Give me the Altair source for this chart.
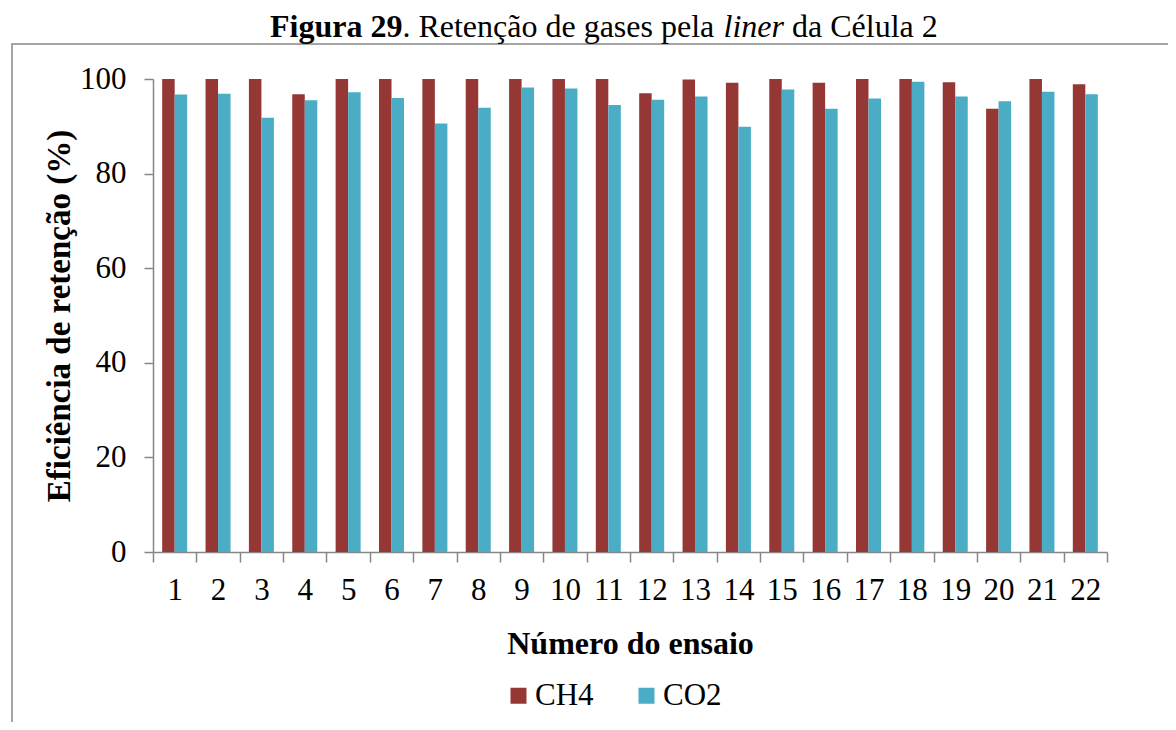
import altair as alt
import pandas as pd

ensaios = ["1", "2", "3", "4", "5", "6", "7", "8", "9", "10", "11",
           "12", "13", "14", "15", "16", "17", "18", "19", "20", "21", "22"]
ch4 = [100, 100, 100, 96.8, 100, 100, 100, 100, 100, 100, 100,
       97.0, 99.9, 99.2, 100, 99.2, 100, 100, 99.3, 93.7, 100, 98.9]
co2 = [96.7, 96.9, 91.8, 95.5, 97.2, 96.0, 90.6, 93.9, 98.2, 98.0, 94.5,
       95.6, 96.3, 89.9, 97.8, 93.7, 95.9, 99.4, 96.3, 95.3, 97.3, 96.8]
gases = ["CH4", "CO2"]
colors = ["#953735", "#4BACC6"]
y_ticks = [0, 20, 40, 60, 80, 100]

rows = []
for i, e in enumerate(ensaios):
    rows.append({"ensaio": e, "gas": gases[0], "valor": ch4[i]})
    rows.append({"ensaio": e, "gas": gases[1], "valor": co2[i]})
df = pd.DataFrame(rows)

FONT = "Liberation Serif"
GRAY = "#868686"

bars = alt.Chart(df).mark_bar().encode(
    x=alt.X("ensaio:N", sort=ensaios,
            scale=alt.Scale(paddingInner=0, paddingOuter=0),
            axis=alt.Axis(title="Número do ensaio", labelAngle=0, tickBand="extent",
                          tickSize=10, labelPadding=13, titlePadding=23)),
    xOffset=alt.XOffset("gas:N", sort=gases,
                        scale=alt.Scale(paddingInner=0, paddingOuter=0.734)),
    y=alt.Y("valor:Q", scale=alt.Scale(domain=[0, 100], nice=False),
            axis=alt.Axis(title="Eficiência de retenção (%)", values=y_ticks,
                          grid=False, tickSize=9, labelPadding=18, titlePadding=3,
                          titleFontSize=33)),
    color=alt.Color("gas:N", scale=alt.Scale(domain=gases, range=colors),
                    legend=alt.Legend(orient="none", legendX=350, legendY=601,
                                      direction="horizontal", title=None,
                                      symbolType="square", symbolSize=256,
                                      symbolStrokeWidth=0,
                                      labelFontSize=31, labelFont=FONT,
                                      labelColor="black", labelOffset=1,
                                      columnPadding=37, padding=0)),
)

one = pd.DataFrame({"a": [0]})

frame = alt.Chart(one).mark_rect(fillOpacity=0, stroke=GRAY, strokeWidth=1.5).encode(
    x=alt.value(-141), x2=alt.value(1100), y=alt.value(-35), y2=alt.value(700)
)

TY = -42
t1 = alt.Chart(one).mark_text(text="Figura 29", font=FONT, fontSize=32, fontWeight="bold",
                              align="left", baseline="alphabetic", color="black").encode(
    x=alt.value(117), y=alt.value(TY))
t2 = alt.Chart(one).mark_text(text=". Retenção de gases pela", font=FONT, fontSize=32,
                              align="left", baseline="alphabetic", color="black").encode(
    x=alt.value(249.4), y=alt.value(TY))
t3 = alt.Chart(one).mark_text(text="liner", font=FONT, fontSize=32, fontStyle="italic",
                              align="left", baseline="alphabetic", color="black").encode(
    x=alt.value(570.5), y=alt.value(TY))
t4 = alt.Chart(one).mark_text(text="da Célula 2", font=FONT, fontSize=32,
                              align="left", baseline="alphabetic", color="black").encode(
    x=alt.value(639), y=alt.value(TY))

chart = alt.layer(frame, bars, t1, t2, t3, t4).properties(
    width=954, height=473,
    padding={"left": 145, "top": 71, "right": 61, "bottom": 170},
    autosize=alt.AutoSizeParams(type="none"),
    background="white",
).configure_view(stroke=None).configure_axis(
    domainColor=GRAY, tickColor=GRAY, domainWidth=1.5, tickWidth=1.5,
    labelFont=FONT, labelFontSize=31, labelColor="black",
    titleFont=FONT, titleFontSize=32, titleFontWeight="bold", titleColor="black",
)

chart.save("out.html", embed_options={"renderer": "svg", "actions": False})
